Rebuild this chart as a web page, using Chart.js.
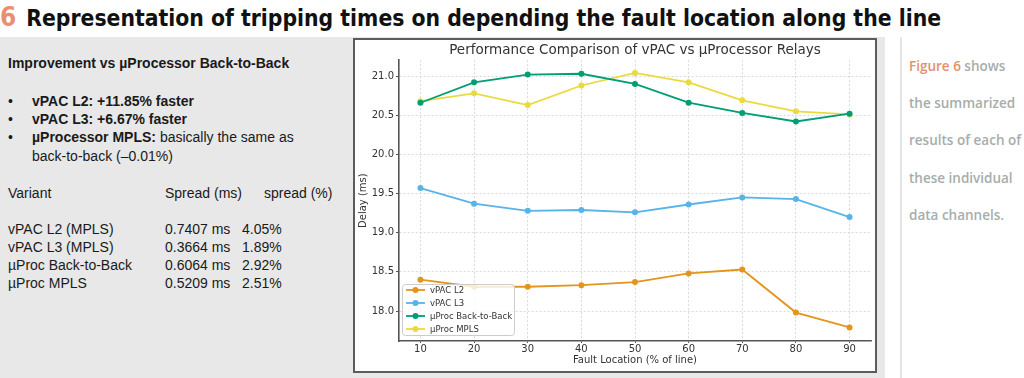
<!DOCTYPE html>
<html><head><meta charset="utf-8">
<script src="https://cdn.jsdelivr.net/npm/chart.js@4.4.1/dist/chart.umd.min.js"></script>
<style>
html,body{margin:0;padding:0;width:1024px;height:378px;overflow:hidden;background:#fff;}
#title{position:absolute;left:0;top:3px;white-space:nowrap;font-family:"DejaVu Sans";font-stretch:condensed;font-weight:bold;font-size:22px;color:#111;line-height:28px;}
#title .num{color:#e98f6f;font-size:26px;margin-right:10px;}
#panel{position:absolute;left:0;top:37px;width:885px;height:341px;background:#e8e8e8;}
#left{position:absolute;left:8px;top:0;font-family:"Liberation Sans",Arial,sans-serif;font-size:14px;color:#1a1a1a;}
#left .h{position:absolute;left:0;top:18px;white-space:nowrap;font-weight:bold;}
#left .b{position:absolute;left:0;white-space:nowrap;}
#left .b .dot{position:absolute;left:0;}
#left .b .tx{position:absolute;left:24px;}
#left .row{position:absolute;white-space:nowrap;}
#box{position:absolute;left:353px;top:1px;width:524px;height:335px;border:2px solid #5c5c5c;box-sizing:border-box;background:#fff;}
#box canvas{display:block;}
#vline{position:absolute;left:900px;top:37px;width:2px;height:341px;background:#e4e4e4;}
#right{position:absolute;left:909px;top:48px;font-family:"Open Sans",Lato,sans-serif;font-weight:600;font-size:13.5px;color:#a7adab;line-height:37.2px;white-space:nowrap;}
#right .f{color:#e3906f;}
</style></head>
<body>
<div id="title"><span class="num">6</span><span id="ttext">Representation of tripping times on depending the fault location along the line</span></div>
<div id="panel">
  <div id="left">
    <div class="h">Improvement vs µProcessor Back-to-Back</div>
    <div class="b" style="top:56px"><span class="dot">•</span><span class="tx"><b>vPAC L2: +11.85% faster</b></span></div>
    <div class="b" style="top:74px"><span class="dot">•</span><span class="tx"><b>vPAC L3: +6.67% faster</b></span></div>
    <div class="b" style="top:92px"><span class="dot">•</span><span class="tx"><b>µProcessor MPLS:</b> basically the same as</span></div>
    <div class="b" style="top:111px"><span class="tx">back-to-back (–0.01%)</span></div>
    <div id="tbl"></div>
  </div>
  <div id="box"><canvas id="c" width="520" height="331"></canvas></div>
</div>
<div id="vline"></div>
<div id="right"><span class="f">Figure 6</span> shows<br>the summarized<br>results of each of<br>these individual<br>data channels.</div>
<script>
// ---- data ----
const faultLocations = [10, 20, 30, 40, 50, 60, 70, 80, 90];
const vpacL2 = [18.40, 18.31, 18.31, 18.33, 18.37, 18.48, 18.53, 17.98, 17.79];
const vpacL3 = [19.57, 19.37, 19.28, 19.29, 19.26, 19.36, 19.45, 19.43, 19.20];
const procB2B = [20.66, 20.92, 21.02, 21.03, 20.90, 20.66, 20.53, 20.42, 20.52];
const procMPLS = [20.68, 20.78, 20.63, 20.88, 21.04, 20.92, 20.69, 20.55, 20.51];
const seriesNames = ['vPAC L2', 'vPAC L3', 'µProc Back-to-Back', 'µProc MPLS'];
const seriesColors = ['#E3951C', '#56B4E9', '#009E73', '#EBDA3F'];
const yTicks = [18.0, 18.5, 19.0, 19.5, 20.0, 20.5, 21.0];
const xTicks = [10, 20, 30, 40, 50, 60, 70, 80, 90];
const variants = ['vPAC L2 (MPLS)', 'vPAC L3 (MPLS)', 'µProc Back-to-Back', 'µProc MPLS'];
const spreadMs = ['0.7407 ms', '0.3664 ms', '0.6064 ms', '0.5209 ms'];
const spreadPct = ['4.05%', '1.89%', '2.92%', '2.51%'];

// ---- left table ----
const tbl = document.getElementById('tbl');
function addRow(top, a, b, c, bx, cx) {
  [[a, 0], [b, bx], [c, cx]].forEach(([t, x]) => {
    const d = document.createElement('div');
    d.className = 'row'; d.style.top = top + 'px'; d.style.left = x + 'px'; d.textContent = t;
    tbl.appendChild(d);
  });
}
addRow(148, 'Variant', 'Spread (ms)', 'spread (%)', 157, 256);
variants.forEach((v, i) => addRow(184 + i * 18, v, spreadMs[i], spreadPct[i], 157, 234));

// ---- title fit ----
(function(){
  const t = document.getElementById('ttext');
  const w = t.getBoundingClientRect().width;
  t.style.fontSize = (22 * 915 / w).toFixed(2) + 'px';
})();

// ---- chart ----
const series = [vpacL2, vpacL3, procB2B, procMPLS];
const datasets = series.map((vals, i) => ({
  label: seriesNames[i],
  data: faultLocations.map((x, j) => ({ x: x, y: vals[j] })),
  borderColor: seriesColors[i],
  backgroundColor: seriesColors[i],
  borderWidth: 1.8,
  pointRadius: 3,
  pointHoverRadius: 3,
  pointBorderWidth: 0,
  tension: 0
}));

const insideLegend = {
  id: 'insideLegend',
  afterDatasetsDraw(chart) {
    const ctx = chart.ctx, a = chart.chartArea;
    const x0 = a.left + 3, y0 = a.bottom - 57, w = 112, h = 51;
    ctx.save();
    ctx.beginPath();
    if (ctx.roundRect) ctx.roundRect(x0 + 0.5, y0 + 0.5, w, h, 3); else ctx.rect(x0 + 0.5, y0 + 0.5, w, h);
    ctx.fillStyle = 'rgba(255,255,255,0.8)';
    ctx.fill();
    ctx.strokeStyle = '#cccccc';
    ctx.lineWidth = 1;
    ctx.stroke();
    ctx.font = '8.5px "DejaVu Sans"';
    ctx.textBaseline = 'middle';
    chart.data.datasets.forEach((ds, i) => {
      const cy = a.bottom - 51 + i * 13;
      ctx.strokeStyle = ds.borderColor; ctx.lineWidth = 1.8;
      ctx.beginPath(); ctx.moveTo(a.left + 7, cy); ctx.lineTo(a.left + 26, cy); ctx.stroke();
      ctx.fillStyle = ds.borderColor;
      ctx.beginPath(); ctx.arc(a.left + 16.5, cy, 3, 0, Math.PI * 2); ctx.fill();
      ctx.fillStyle = '#333';
      ctx.fillText(ds.label, a.left + 31, cy + 0.5);
    });
    ctx.restore();
  }
};

new Chart(document.getElementById('c'), {
  type: 'line',
  data: { datasets: datasets },
  plugins: [insideLegend],
  options: {
    responsive: false,
    animation: false,
    events: [],
    layout: { padding: { left: 0, right: 4, top: 0, bottom: 0 } },
    plugins: {
      legend: { display: false },
      tooltip: { enabled: false },
      title: {
        display: true,
        text: 'Performance Comparison of vPAC vs µProcessor Relays',
        fullSize: false,
        color: '#333',
        font: { family: 'DejaVu Sans', size: 13.5, weight: 'normal', lineHeight: 1.2 },
        padding: { top: 2, bottom: 2 }
      }
    },
    scales: {
      x: {
        type: 'linear', min: 6, max: 94,
        afterBuildTicks: s => { s.ticks = xTicks.map(v => ({ value: v })); },
        afterFit: s => { s.height = 30; },
        ticks: { color: '#333', font: { family: 'DejaVu Sans', size: 10 }, padding: 0, maxRotation: 0, callback: v => String(v) },
        grid: { color: '#d0d0d0', lineWidth: 0.8, tickColor: '#555', tickLength: 2, tickBorderDash: [], tickWidth: 1 },
        border: { display: true, color: '#555', width: 1.6, dash: [2, 2] },
        title: { display: true, text: 'Fault Location (% of line)', color: '#333', font: { family: 'DejaVu Sans', size: 10 }, padding: { top: 0, bottom: 5 } }
      },
      y: {
        type: 'linear', min: 17.617, max: 21.203,
        afterBuildTicks: s => { s.ticks = yTicks.map(v => ({ value: v })); },
        afterFit: s => { s.width = 44; },
        ticks: { color: '#333', font: { family: 'DejaVu Sans', size: 10 }, padding: 2, callback: v => Number(v).toFixed(1) },
        grid: { color: '#d0d0d0', lineWidth: 0.8, tickColor: '#555', tickLength: 3, tickBorderDash: [], tickWidth: 1 },
        border: { display: true, color: '#555', width: 1.6, dash: [2, 2] },
        title: { display: true, text: 'Delay (ms)', color: '#333', font: { family: 'DejaVu Sans', size: 10 }, padding: { top: 2, bottom: 0 } }
      }
    }
  }
});
</script>
</body></html>
